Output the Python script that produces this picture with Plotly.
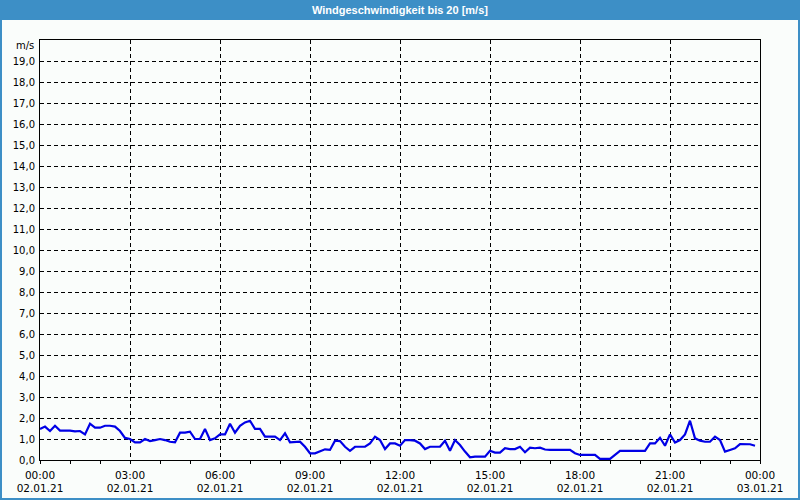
import pandas as pd
import plotly.graph_objects as go

# Wind speed [m/s], 10-minute samples from 02.01.21 00:00 to 23:50
wind = [
    1.48, 1.59, 1.38, 1.63, 1.40, 1.40, 1.40, 1.36, 1.38, 1.22,
    1.73, 1.54, 1.54, 1.63, 1.63, 1.59, 1.38, 1.05, 1.00, 0.84,
    0.84, 1.00, 0.90, 0.95, 1.00, 0.95, 0.87, 0.84, 1.30, 1.30,
    1.35, 1.00, 1.00, 1.48, 0.95, 1.03, 1.22, 1.22, 1.73, 1.30,
    1.63, 1.79, 1.87, 1.48, 1.48, 1.11, 1.11, 1.11, 0.95, 1.27,
    0.84, 0.87, 0.87, 0.63, 0.32, 0.32, 0.40, 0.51, 0.48, 0.92,
    0.90, 0.63, 0.44, 0.63, 0.63, 0.63, 0.79, 1.11, 0.95, 0.52,
    0.79, 0.79, 0.68, 0.95, 0.95, 0.92, 0.79, 0.52, 0.63, 0.63,
    0.63, 0.92, 0.44, 0.95, 0.71, 0.40, 0.13, 0.16, 0.16, 0.16,
    0.44, 0.35, 0.35, 0.56, 0.52, 0.52, 0.63, 0.37, 0.59, 0.56,
    0.59, 0.50, 0.48, 0.48, 0.48, 0.48, 0.48, 0.32, 0.24, 0.24,
    0.24, 0.24, 0.05, 0.05, 0.05, 0.24, 0.43, 0.43, 0.43, 0.43,
    0.43, 0.43, 0.79, 0.79, 1.06, 0.68, 1.22, 0.83, 0.95, 1.22,
    1.87, 1.03, 0.92, 0.87, 0.87, 1.11, 0.95, 0.40, 0.48, 0.56,
    0.76, 0.75, 0.75, 0.68,
]
times = pd.date_range("2021-01-02 00:00", periods=len(wind), freq="10min")

x_ticks = pd.date_range("2021-01-02 00:00", "2021-01-03 00:00", freq="3h")
x_ticktext = [f"{t:%H:%M}<br>{t:%d.%m.%y}" for t in x_ticks]
y_ticks = list(range(0, 20))
y_ticktext = [f"{v},0" for v in y_ticks]

title_text = "Windgeschwindigkeit bis 20 [m/s]"
unit_text = "m/s"

W, H = 800, 500
L, R, T, B = 40, 40, 40, 40
pw, ph = W - L - R, H - T - B


def px(x):
    return (x - L) / pw


def py(y):
    return (H - B - y) / ph


fig = go.Figure()
fig.add_trace(go.Scatter(
    x=times, y=wind, mode="lines",
    line=dict(color="#0000e6", width=2.2),
    hoverinfo="skip", showlegend=False,
))

font = dict(family="DejaVu Sans", size=10, color="#000000")
xfont = dict(family="DejaVu Sans", size=10.5, color="#000000")

fig.update_layout(
    width=W, height=H,
    margin=dict(l=L, r=R, t=T, b=B, autoexpand=False),
    paper_bgcolor="#fafdfb",
    plot_bgcolor="#fafdfb",
    font=font,
    xaxis=dict(
        range=[x_ticks[0], x_ticks[-1]],
        tickvals=list(x_ticks), ticktext=x_ticktext,
        showgrid=True, gridcolor="#000000", griddash="4px,3px", gridwidth=1,
        ticks="outside", ticklen=3, tickcolor="#000000",
        minor=dict(dtick=3600000, ticks="outside", ticklen=3,
                   tickcolor="#000000", showgrid=False),
        showline=True, linecolor="#000000", linewidth=1, mirror=True,
        zeroline=False, tickfont=xfont, tickangle=0, ticklabelstandoff=2,
    ),
    yaxis=dict(
        range=[0, 20],
        tickvals=y_ticks, ticktext=y_ticktext,
        showgrid=True, gridcolor="#000000", griddash="4px,3px", gridwidth=1,
        ticks="", showline=True, linecolor="#000000", linewidth=1, mirror=True,
        zeroline=False, tickfont=font, ticklabelstandoff=2,
    ),
    shapes=[
        dict(type="rect", xref="paper", yref="paper", layer="below",
             x0=px(0), x1=px(W), y0=py(20), y1=py(0),
             fillcolor="#3d8fc6", line=dict(width=0)),
        dict(type="rect", xref="paper", yref="paper",
             x0=px(1), x1=px(W - 1), y0=py(H - 1), y1=py(1),
             fillcolor="rgba(0,0,0,0)", line=dict(color="#3d8fc6", width=2)),
    ],
    annotations=[
        dict(text=f"<b>{title_text}</b>", xref="paper", yref="paper",
             x=px(W / 2), y=py(10), showarrow=False,
             xanchor="center", yanchor="middle",
             font=dict(family="Liberation Sans", size=11, color="#ffffff")),
        dict(text=unit_text, xref="paper", yref="paper",
             x=px(36), y=py(46), showarrow=False,
             xanchor="right", yanchor="middle", font=font),
    ],
)

fig.write_html("out.html")
